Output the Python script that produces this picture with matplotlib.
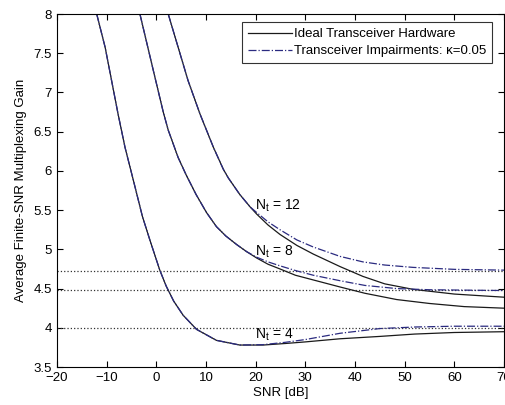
import numpy as np
import matplotlib
matplotlib.use('Agg')
import matplotlib.pyplot as plt
from matplotlib.ticker import FormatStrFormatter

plt.rcParams['font.family'] = ['Liberation Sans', 'DejaVu Sans']
plt.rcParams['mathtext.fontset'] = 'custom'
plt.rcParams['mathtext.rm'] = 'Liberation Sans'

# Nt = 4
snr_n4 = [-12.0, -10.3, -9.0, -7.7, -6.3, -4.6, -2.8, -1.3, 0.7, 2.0, 3.5, 5.4, 8.1, 12.1, 16.8, 21.5, 26, 30, 37, 45, 52, 60, 70]
gain_n4_ideal = [8.0, 7.575, 7.15, 6.725, 6.30, 5.875, 5.42, 5.12, 4.735, 4.53, 4.34, 4.16, 3.98, 3.84, 3.78, 3.78, 3.80, 3.82, 3.86, 3.89, 3.92, 3.94, 3.95]
gain_n4_imp = [8.0, 7.575, 7.15, 6.725, 6.30, 5.875, 5.42, 5.12, 4.735, 4.53, 4.34, 4.16, 3.98, 3.84, 3.78, 3.785, 3.815, 3.85, 3.93, 3.99, 4.01, 4.02, 4.02]

# Nt = 8
snr_n8 = [-3.3, -1.8, -0.3, 1.4, 2.4, 4.4, 6.0, 8.0, 10.1, 12.1, 14, 16.2, 18.2, 20.2, 22.5, 24.9, 28, 31.6, 37, 42, 48.4, 55, 62, 70]
gain_n8_ideal = [8.0, 7.6, 7.2, 6.75, 6.52, 6.17, 5.95, 5.70, 5.47, 5.29, 5.17, 5.06, 4.97, 4.89, 4.81, 4.75, 4.67, 4.61, 4.52, 4.44, 4.36, 4.31, 4.27, 4.25]
gain_n8_imp = [8.0, 7.6, 7.2, 6.75, 6.52, 6.17, 5.95, 5.70, 5.47, 5.29, 5.17, 5.06, 4.97, 4.90, 4.84, 4.79, 4.73, 4.67, 4.60, 4.54, 4.50, 4.485, 4.48, 4.475]

# Nt = 12
snr_n12 = [2.4, 4.4, 6.4, 8.8, 11.5, 13.5, 14.5, 16.8, 18.9, 20.2, 22.5, 24.9, 28.3, 31.6, 37, 41.6, 46, 51.7, 60, 70]
gain_n12_ideal = [8.0, 7.575, 7.15, 6.725, 6.30, 6.02, 5.91, 5.70, 5.54, 5.45, 5.31, 5.19, 5.05, 4.94, 4.78, 4.655, 4.56, 4.49, 4.43, 4.39]
gain_n12_imp = [8.0, 7.575, 7.15, 6.725, 6.30, 6.02, 5.91, 5.70, 5.54, 5.47, 5.35, 5.25, 5.12, 5.03, 4.91, 4.84, 4.80, 4.77, 4.745, 4.735]

# asymptotic limits with impairments
limits = [4.0, 4.48, 4.73]
labels = [r'N$_\mathrm{t}$ = 4', r'N$_\mathrm{t}$ = 8', r'N$_\mathrm{t}$ = 12']
label_pos = [(19.9, 3.905), (19.9, 4.97), (19.9, 5.55)]

ideal_color = '#1a1a1a'
imp_color = '#2b2b80'

fig = plt.figure(figsize=(5.06, 4.05), dpi=100)
ax = fig.add_axes([0.1126, 0.0938, 0.8834, 0.8716])

for lim in limits:
    ax.plot([-20, 70], [lim, lim], linestyle=':', color='#333333', lw=0.9)

ax.plot(snr_n4, gain_n4_ideal, '-', color=ideal_color, lw=0.9, label='Ideal Transceiver Hardware')
ax.plot(snr_n8, gain_n8_ideal, '-', color=ideal_color, lw=0.9)
ax.plot(snr_n12, gain_n12_ideal, '-', color=ideal_color, lw=0.9)

ax.plot(snr_n4, gain_n4_imp, '-.', color=imp_color, lw=0.9, label='Transceiver Impairments: \u03ba=0.05')
ax.plot(snr_n8, gain_n8_imp, '-.', color=imp_color, lw=0.9)
ax.plot(snr_n12, gain_n12_imp, '-.', color=imp_color, lw=0.9)

for lab, (x, y) in zip(labels, label_pos):
    ax.text(x, y, lab, fontsize=10, ha='left', va='center')

ax.set_xlim(-20, 70)
ax.set_ylim(3.5, 8)
ax.set_xticks(np.arange(-20, 71, 10))
ax.set_yticks(np.arange(3.5, 8.01, 0.5))
ax.yaxis.set_major_formatter(FormatStrFormatter('%g'))
ax.tick_params(direction='in', top=True, right=True, labelsize=9.5, length=4)
ax.set_xlabel('SNR [dB]', fontsize=9.5, labelpad=2)
ax.set_ylabel('Average Finite-SNR Multiplexing Gain', fontsize=9.5, labelpad=5)

leg = ax.legend(loc='upper right', bbox_to_anchor=(0.973, 0.977), fontsize=9.5,
                frameon=True, fancybox=False, edgecolor='black', handlelength=3.3,
                borderaxespad=0, handletextpad=0.15, borderpad=0.45, labelspacing=0.35)
leg.get_frame().set_linewidth(0.8)

fig.savefig('out.png', dpi=100)
